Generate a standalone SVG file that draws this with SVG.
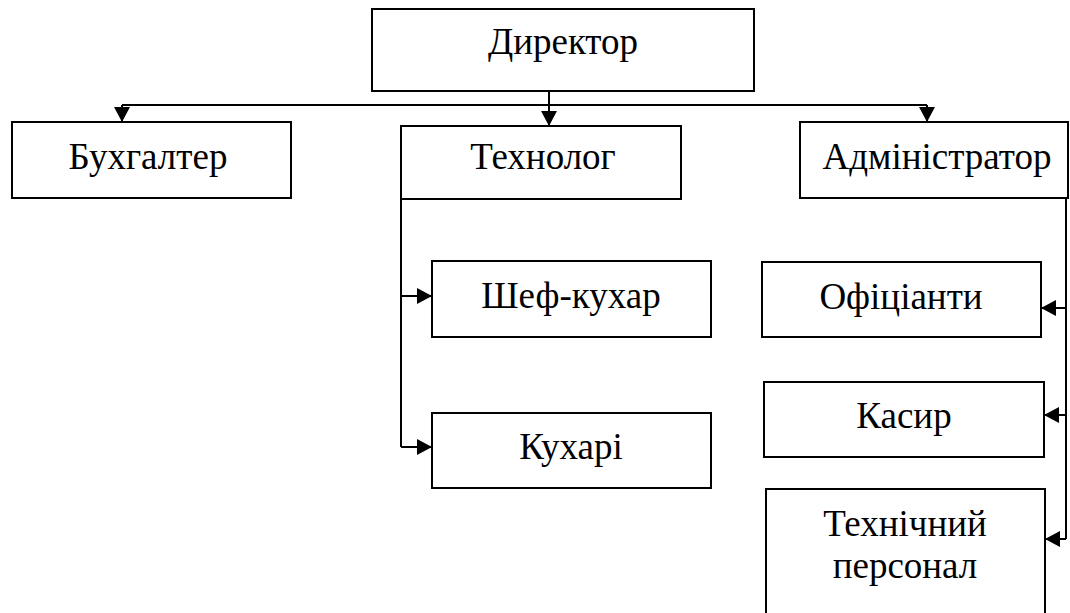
<svg xmlns="http://www.w3.org/2000/svg" width="1070" height="613" viewBox="0 0 1070 613">
<defs>
<marker id="arr" markerUnits="userSpaceOnUse" markerWidth="16" markerHeight="16" refX="15" refY="8" orient="auto">
<path d="M0,0 L15,8 L0,16 Z" fill="#000"/>
</marker>
<style>
.box{fill:#fff;stroke:#000;stroke-width:2}
.t{font-family:"Liberation Serif","Times New Roman",serif;font-size:37px;fill:#000;text-anchor:middle}
.c{fill:none;stroke:#000;stroke-width:2}
</style>
</defs>
<rect width="1070" height="613" fill="#fff"/>
<g id="connectors">
<path class="c" d="M122,105 H927"/>
<path class="c" d="M122,105 V122" marker-end="url(#arr)"/>
<path class="c" d="M549,91 V126" marker-end="url(#arr)"/>
<path class="c" d="M927,105 V122" marker-end="url(#arr)"/>
<path class="c" d="M401,199 V447"/>
<path class="c" d="M401,296 H432" marker-end="url(#arr)"/>
<path class="c" d="M401,447 H432" marker-end="url(#arr)"/>
<path class="c" d="M1066,198 V539"/>
<path class="c" d="M1066,308 H1041" marker-end="url(#arr)"/>
<path class="c" d="M1066,415 H1044" marker-end="url(#arr)"/>
<path class="c" d="M1066,539 H1045" marker-end="url(#arr)"/>
</g>
<g id="director"><rect class="box" x="372" y="9" width="382" height="82"/><text class="t" x="563" y="54">Директор</text></g>
<g id="accountant"><rect class="box" x="12" y="122" width="279" height="76"/><text class="t" x="148" y="169">Бухгалтер</text></g>
<g id="technologist"><rect class="box" x="401" y="126" width="280" height="73"/><text class="t" x="543" y="169">Технолог</text></g>
<g id="administrator"><rect class="box" x="800" y="122" width="268" height="76"/><text class="t" x="937" y="169">Адміністратор</text></g>
<g id="chef"><rect class="box" x="432" y="261" width="279" height="76"/><text class="t" x="571" y="308">Шеф-кухар</text></g>
<g id="cooks"><rect class="box" x="432" y="413" width="279" height="75"/><text class="t" x="571" y="459">Кухарі</text></g>
<g id="waiters"><rect class="box" x="762" y="262" width="279" height="75"/><text class="t" x="901" y="309">Офіціанти</text></g>
<g id="cashier"><rect class="box" x="764" y="382" width="280" height="75"/><text class="t" x="904" y="428">Касир</text></g>
<g id="tech-staff"><rect class="box" x="766" y="489" width="279" height="130"/><text class="t" x="905" y="536">Технічний</text><text class="t" x="905" y="578">персонал</text></g>
</svg>
